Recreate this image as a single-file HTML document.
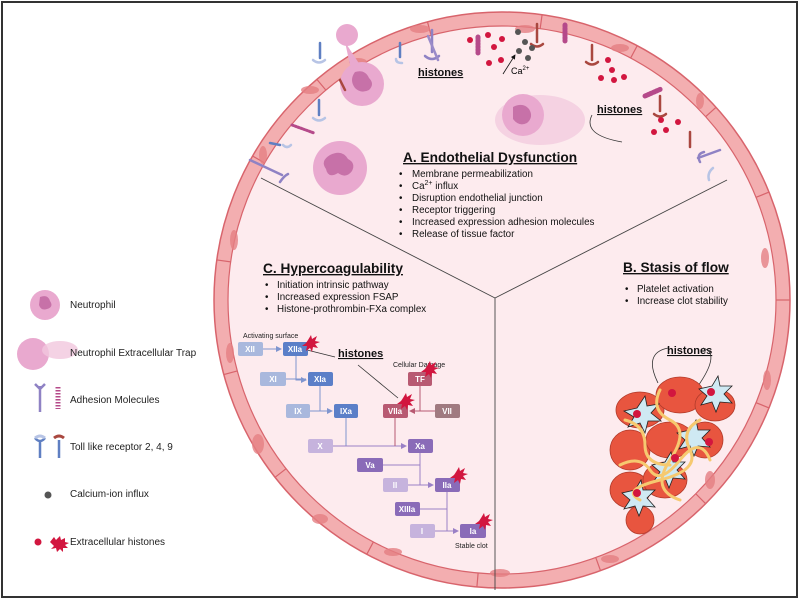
<!DOCTYPE html>
<html><head><meta charset="utf-8"><style>
html,body{margin:0;padding:0;background:#fff;}
svg{display:block;font-family:"Liberation Sans",sans-serif;}
</style></head><body>
<svg width="800" height="600" viewBox="0 0 800 600" xmlns="http://www.w3.org/2000/svg">
<defs>
<marker id="ab" markerWidth="6" markerHeight="6" refX="5" refY="3" orient="auto"><path d="M0,0 L6,3 L0,6z" fill="#7f95cf"/></marker>
<marker id="ap" markerWidth="6" markerHeight="6" refX="5" refY="3" orient="auto"><path d="M0,0 L6,3 L0,6z" fill="#9a80c6"/></marker>
<marker id="ar" markerWidth="6" markerHeight="6" refX="5" refY="3" orient="auto"><path d="M0,0 L6,3 L0,6z" fill="#b85a72"/></marker>
<marker id="ak" markerWidth="6" markerHeight="6" refX="5" refY="3" orient="auto"><path d="M0,0 L6,3 L0,6z" fill="#111"/></marker>
<clipPath id="vc"><circle cx="502" cy="300" r="289"/></clipPath>
</defs>
<rect x="2" y="2" width="795" height="595" fill="#fff" stroke="#333" stroke-width="2"/>
<!-- vessel -->
<circle cx="502" cy="300" r="288" fill="#f3aeb0" stroke="#d8646c" stroke-width="1.5"/>
<circle cx="502" cy="300" r="274" fill="#fdebee" stroke="#d8646c" stroke-width="1.2"/>
<g stroke="#d8646c" stroke-width="1.2">
<line x1="502" y1="12" x2="502" y2="26" transform="rotate(-60 502 300)"/>
<line x1="502" y1="12" x2="502" y2="26" transform="rotate(-40 502 300)"/>
<line x1="502" y1="12" x2="502" y2="26" transform="rotate(-15 502 300)"/>
<line x1="502" y1="12" x2="502" y2="26" transform="rotate(8 502 300)"/>
<line x1="502" y1="12" x2="502" y2="26" transform="rotate(28 502 300)"/>
<line x1="502" y1="12" x2="502" y2="26" transform="rotate(48 502 300)"/>
<line x1="502" y1="12" x2="502" y2="26" transform="rotate(68 502 300)"/>
<line x1="502" y1="12" x2="502" y2="26" transform="rotate(90 502 300)"/>
<line x1="502" y1="12" x2="502" y2="26" transform="rotate(112 502 300)"/>
<line x1="502" y1="12" x2="502" y2="26" transform="rotate(135 502 300)"/>
<line x1="502" y1="12" x2="502" y2="26" transform="rotate(160 502 300)"/>
<line x1="502" y1="12" x2="502" y2="26" transform="rotate(185 502 300)"/>
<line x1="502" y1="12" x2="502" y2="26" transform="rotate(208 502 300)"/>
<line x1="502" y1="12" x2="502" y2="26" transform="rotate(232 502 300)"/>
<line x1="502" y1="12" x2="502" y2="26" transform="rotate(255 502 300)"/>
<line x1="502" y1="12" x2="502" y2="26" transform="rotate(278 502 300)"/>
</g>
<g fill="#e57f83" opacity="0.8">
<ellipse cx="420" cy="29" rx="10" ry="4"/><ellipse cx="525" cy="29" rx="10" ry="4" /><ellipse cx="620" cy="48" rx="9" ry="4"/>
<ellipse cx="700" cy="101" rx="4" ry="8"/><ellipse cx="765" cy="258" rx="4" ry="10"/><ellipse cx="767" cy="380" rx="4" ry="10"/>
<ellipse cx="230" cy="353" rx="4" ry="10"/><ellipse cx="234" cy="240" rx="4" ry="10"/><ellipse cx="258" cy="444" rx="6" ry="10"/>
<ellipse cx="320" cy="519" rx="8" ry="5"/><ellipse cx="393" cy="552" rx="9" ry="4"/><ellipse cx="500" cy="573" rx="10" ry="4"/>
<ellipse cx="610" cy="559" rx="9" ry="4"/><ellipse cx="710" cy="480" rx="5" ry="9"/><ellipse cx="263" cy="155" rx="4" ry="9"/>
<ellipse cx="310" cy="90" rx="9" ry="4"/><ellipse cx="358" cy="62" rx="9" ry="4"/>
</g>
<!-- dividers -->
<g stroke="#444" stroke-width="0.9" fill="none">
<line x1="261" y1="178" x2="495" y2="298"/><line x1="495" y1="298" x2="727" y2="180"/><line x1="495" y1="298" x2="495" y2="590"/>
</g>
<!-- neutrophils -->
<g>
<circle cx="340" cy="168" r="27" fill="#e9a9cf"/><path d="M330,155 q12,-6 18,4 q8,4 4,12 q-6,8 -14,2 q-10,6 -12,-4 q-6,-8 4,-14z" fill="#c771a8"/>
<circle cx="362" cy="84" r="22" fill="#e9a9cf"/><path d="M355,72 q10,-3 14,6 q6,6 0,12 q-8,4 -14,-2 q-6,-8 0,-16z" fill="#c771a8"/>
<circle cx="347" cy="35" r="11" fill="#e9a9cf"/><path d="M345,42 L360,65 L350,65z" fill="#e9a9cf"/>
<ellipse cx="540" cy="120" rx="45" ry="25" fill="#f1c7dd" opacity="0.7"/>
<circle cx="523" cy="115" r="21" fill="#e9a9cf"/><path d="M513,107 q10,-5 16,2 q5,8 -2,14 q-8,4 -14,-4z" fill="#c771a8"/>
</g>
<!-- receptors (simplified) -->
<g stroke-width="2.5" fill="none" stroke-linecap="round">
<path d="M432,30 l0,22" stroke="#8f82c4"/><path d="M425,56 q7,6 14,0" stroke="#8f82c4"/>
<path d="M428,36 l10,24" stroke="#9b8bc9"/>
<path d="M400,43 l0,14" stroke="#5f7fc2"/><path d="M402,63 q-6,0 -6,-4" stroke="#b7c4e5"/>
<path d="M537,24 l0,18" stroke="#a9473f"/><path d="M531,44 q6,5 12,0" stroke="#a9473f"/>
<path d="M592,45 l0,15" stroke="#a9473f"/><path d="M586,62 q6,5 12,0" stroke="#a9473f"/>
<path d="M660,96 l0,15" stroke="#a9473f"/><path d="M654,114 q6,5 12,0" stroke="#a9473f"/>
<path d="M720,150 l-22,8" stroke="#8f82c4"/><path d="M700,162 q-4,-8 4,-10" stroke="#8f82c4"/>
<path d="M250,160 l32,15" stroke="#8f82c4"/><path d="M280,182 q4,-6 8,-8" stroke="#8f82c4"/>
<path d="M320,43 l0,15" stroke="#5f7fc2"/><path d="M313,60 q6,5 12,0" stroke="#b7c4e5"/>
<path d="M319,100 l0,15" stroke="#5f7fc2"/><path d="M313,118 q6,5 12,0" stroke="#b7c4e5"/>
<path d="M340,80 l5,10" stroke="#a9473f"/>
<path d="M270,143 l10,2" stroke="#5f7fc2"/><path d="M283,145 q4,4 8,0" stroke="#b7c4e5"/>
<path d="M292,125 l22,8" stroke="#b54a8a" stroke-width="3" stroke-dasharray="1.5 1.5"/>
<path d="M478,37 l0,16" stroke="#b54a8a" stroke-width="5" stroke-dasharray="1.5 1.5"/>
<path d="M565,25 l0,16" stroke="#b54a8a" stroke-width="5" stroke-dasharray="1.5 1.5"/>
<path d="M645,96 l16,-7" stroke="#b54a8a" stroke-width="5" stroke-dasharray="1.5 1.5"/>
<path d="M690,132 l0,15" stroke="#a9473f"/><path d="M713,168 q-6,5 -4,12" stroke="#b7c4e5"/>
</g>
<!-- dots -->
<g fill="#d2163f">
<circle cx="488" cy="35" r="3"/><circle cx="502" cy="39" r="3"/><circle cx="494" cy="47" r="3"/><circle cx="489" cy="63" r="3"/><circle cx="501" cy="60" r="3"/><circle cx="470" cy="40" r="3"/>
<circle cx="608" cy="60" r="3"/><circle cx="612" cy="70" r="3"/><circle cx="601" cy="78" r="3"/><circle cx="614" cy="80" r="3"/><circle cx="624" cy="77" r="3"/>
<circle cx="661" cy="120" r="3"/><circle cx="654" cy="132" r="3"/><circle cx="666" cy="130" r="3"/><circle cx="678" cy="122" r="3"/>
</g>
<g fill="#555"><circle cx="518" cy="32" r="3"/><circle cx="525" cy="42" r="3"/><circle cx="519" cy="51" r="3"/><circle cx="528" cy="58" r="3"/><circle cx="532" cy="48" r="3"/></g>
<g font-weight="bold" font-size="11" fill="#111" text-decoration="underline">
<text x="418" y="76">histones</text><text x="597" y="113">histones</text><text x="667" y="354">histones</text><text x="338" y="357">histones</text>
</g>
<text x="511" y="74" font-size="9">Ca<tspan font-size="6" dy="-4">2+</tspan></text>
<line x1="503" y1="74" x2="515" y2="55" stroke="#111" stroke-width="0.8" marker-end="url(#ak)"/>
<g stroke="#333" stroke-width="0.8" fill="none">
<path d="M592,115 q-10,20 30,27"/><path d="M668,348 q-25,5 -10,35"/><path d="M703,348 q18,5 -5,38"/>
<line x1="307" y1="350" x2="335" y2="357"/><line x1="358" y1="365" x2="398" y2="398"/>
</g>
<!-- clot -->
<g clip-path="url(#vc)">
<g fill="#e8553f" stroke="#b03a2a" stroke-width="0.8">
<ellipse cx="640" cy="410" rx="24" ry="18"/><ellipse cx="680" cy="395" rx="24" ry="18"/><ellipse cx="715" cy="405" rx="20" ry="16"/>
<ellipse cx="630" cy="450" rx="20" ry="20"/><ellipse cx="670" cy="440" rx="24" ry="18"/><ellipse cx="705" cy="440" rx="18" ry="18"/>
<ellipse cx="630" cy="490" rx="20" ry="18"/><ellipse cx="665" cy="480" rx="22" ry="18"/><ellipse cx="640" cy="520" rx="14" ry="14"/>
</g>
<g fill="#cfe9f3" stroke="#222" stroke-width="0.8">
<path d="M637,408 l8,-12 2,10 12,-2 -8,9 10,8 -13,0 -3,12 -5,-10 -12,4 6,-10 -10,-6z"/>
<path d="M712,386 l6,-10 2,10 12,0 -8,8 8,9 -12,-1 -4,10 -4,-10 -11,3 6,-9 -8,-7z"/>
<path d="M690,430 l6,-10 2,10 12,0 -8,8 8,9 -12,-1 -4,10 -4,-10 -11,3 6,-9 -8,-7z"/>
<path d="M665,462 l6,-10 2,10 12,0 -8,8 8,9 -12,-1 -4,10 -4,-10 -11,3 6,-9 -8,-7z"/>
<path d="M635,490 l6,-10 2,10 12,0 -8,8 8,9 -12,-1 -4,10 -4,-10 -11,3 6,-9 -8,-7z"/>
</g>
<g fill="none" stroke="#f6c970" stroke-width="3" stroke-linecap="round">
<path d="M620,465 q20,-10 30,5 t30,-10 t30,0"/><path d="M660,390 q-10,20 10,30 t0,40 t10,40"/>
<path d="M625,420 q20,5 20,25 t25,20"/><path d="M700,420 q-20,10 -10,30 t-30,30 t-20,20"/>
</g>
<g fill="#d2163f"><circle cx="672" cy="393" r="4"/><circle cx="711" cy="392" r="4"/><circle cx="637" cy="414" r="4"/><circle cx="709" cy="442" r="4"/><circle cx="675" cy="458" r="4"/><circle cx="637" cy="493" r="4"/></g>
</g>
<!-- Section titles -->
<g fill="#111">
<text x="403" y="162" font-size="13.7" font-weight="bold" text-decoration="underline">A. Endothelial Dysfunction</text>
<g font-size="9.8">
<text x="399" y="177">•</text><text x="412" y="177">Membrane permeabilization</text>
<text x="399" y="189">•</text><text x="412" y="189">Ca<tspan font-size="7" dy="-4">2+</tspan><tspan dy="4"> influx</tspan></text>
<text x="399" y="201">•</text><text x="412" y="201">Disruption endothelial junction</text>
<text x="399" y="213">•</text><text x="412" y="213">Receptor triggering</text>
<text x="399" y="225">•</text><text x="412" y="225">Increased expression adhesion molecules</text>
<text x="399" y="237">•</text><text x="412" y="237">Release of tissue factor</text>
</g>
<text x="263" y="273" font-size="13.7" font-weight="bold" text-decoration="underline">C. Hypercoagulability</text>
<g font-size="9.8">
<text x="265" y="288">•</text><text x="277" y="288">Initiation intrinsic pathway</text>
<text x="265" y="300">•</text><text x="277" y="300">Increased expression FSAP</text>
<text x="265" y="312">•</text><text x="277" y="312">Histone-prothrombin-FXa complex</text>
</g>
<text x="623" y="272" font-size="13.7" font-weight="bold" text-decoration="underline">B. Stasis of flow</text>
<g font-size="9.8">
<text x="625" y="292">•</text><text x="637" y="292">Platelet activation</text>
<text x="625" y="304">•</text><text x="637" y="304">Increase clot stability</text>
</g>
</g>
<!-- cascade -->
<g font-size="7" fill="#222"><text x="243" y="338">Activating surface</text><text x="393" y="367">Cellular Damage</text><text x="455" y="548">Stable clot</text></g>
<g stroke-width="1">
<path d="M263,349 H281" stroke="#7f95cf" marker-end="url(#ab)"/>
<path d="M296,356 V380 H306" stroke="#7f95cf" fill="none" marker-end="url(#ab)"/>
<path d="M286,379 H306" stroke="#7f95cf"/>
<path d="M320,386 V411 H332" stroke="#7f95cf" fill="none" marker-end="url(#ab)"/>
<path d="M310,411 H332" stroke="#7f95cf"/>
<path d="M346,418 V446" stroke="#7f95cf"/>
<path d="M333,446 H406" stroke="#9a80c6" marker-end="url(#ap)"/>
<path d="M420,386 V411 H410" stroke="#b85a72" fill="none" marker-end="url(#ar)"/>
<path d="M435,411 H410" stroke="#b85a72"/>
<path d="M395,418 V446" stroke="#b85a72"/>
<path d="M420,453 V485 H433" stroke="#9a80c6" fill="none" marker-end="url(#ap)"/>
<path d="M383,465 H420" stroke="#9a80c6"/><path d="M408,485 H433" stroke="#9a80c6"/>
<path d="M447,492 V531 H458" stroke="#9a80c6" fill="none" marker-end="url(#ap)"/>
<path d="M420,509 H447" stroke="#9a80c6"/><path d="M435,531 H458" stroke="#9a80c6"/>
</g>
<g font-size="8" font-weight="bold" fill="#fff" text-anchor="middle">
<rect x="238" y="342" width="25" height="14" rx="2" fill="#a9b8dd"/><text x="250" y="352">XII</text>
<rect x="283" y="342" width="25" height="14" rx="2" fill="#5b7fc8"/><text x="295" y="352">XIIa</text>
<rect x="260" y="372" width="26" height="14" rx="2" fill="#a9b8dd"/><text x="273" y="382">XI</text>
<rect x="308" y="372" width="25" height="14" rx="2" fill="#5b7fc8"/><text x="320" y="382">XIa</text>
<rect x="286" y="404" width="24" height="14" rx="2" fill="#a9b8dd"/><text x="298" y="414">IX</text>
<rect x="334" y="404" width="24" height="14" rx="2" fill="#5b7fc8"/><text x="346" y="414">IXa</text>
<rect x="383" y="404" width="25" height="14" rx="2" fill="#b85a72"/><text x="395" y="414">VIIa</text>
<rect x="408" y="372" width="24" height="14" rx="2" fill="#b85a72"/><text x="420" y="382">TF</text>
<rect x="435" y="404" width="25" height="14" rx="2" fill="#a07a80"/><text x="447" y="414">VII</text>
<rect x="308" y="439" width="25" height="14" rx="2" fill="#c6b3dd"/><text x="320" y="449">X</text>
<rect x="408" y="439" width="25" height="14" rx="2" fill="#8a6bb8"/><text x="420" y="449">Xa</text>
<rect x="357" y="458" width="26" height="14" rx="2" fill="#8a6bb8"/><text x="370" y="468">Va</text>
<rect x="383" y="478" width="25" height="14" rx="2" fill="#c6b3dd"/><text x="395" y="488">II</text>
<rect x="435" y="478" width="25" height="14" rx="2" fill="#8a6bb8"/><text x="447" y="488">IIa</text>
<rect x="395" y="502" width="25" height="14" rx="2" fill="#8a6bb8"/><text x="407" y="512">XIIIa</text>
<rect x="410" y="524" width="25" height="14" rx="2" fill="#c6b3dd"/><text x="422" y="534">I</text>
<rect x="460" y="524" width="26" height="14" rx="2" fill="#8a6bb8"/><text x="473" y="534">Ia</text>
</g>
<g fill="#d2163f">
<path d="M308,340 l3,-5 1,4 5,-3 -2,5 5,1 -5,2 3,4 -5,-1 -1,5 -2,-4 -4,3 1,-5 -5,0 4,-3z"/>
<path d="M427,366 l3,-5 1,4 5,-3 -2,5 5,1 -5,2 3,4 -5,-1 -1,5 -2,-4 -4,3 1,-5 -5,0 4,-3z"/>
<path d="M403,398 l3,-5 1,4 5,-3 -2,5 5,1 -5,2 3,4 -5,-1 -1,5 -2,-4 -4,3 1,-5 -5,0 4,-3z"/>
<path d="M456,472 l3,-5 1,4 5,-3 -2,5 5,1 -5,2 3,4 -5,-1 -1,5 -2,-4 -4,3 1,-5 -5,0 4,-3z"/>
<path d="M481,518 l3,-5 1,4 5,-3 -2,5 5,1 -5,2 3,4 -5,-1 -1,5 -2,-4 -4,3 1,-5 -5,0 4,-3z"/>
</g>
<!-- legend -->
<circle cx="45" cy="305" r="15" fill="#e9a9cf"/><path d="M40,297 q8,-3 10,4 q4,6 -3,8 q-6,2 -8,-4z" fill="#c771a8"/>
<circle cx="33" cy="354" r="16" fill="#e9a9cf"/><ellipse cx="60" cy="350" rx="18" ry="9" fill="#f1c7dd" opacity="0.8"/>
<path d="M40,386 v26 M35,384 l5,5 5,-5" stroke="#8f82c4" stroke-width="2.5" fill="none"/>
<path d="M58,387 v22" stroke="#b54a8a" stroke-width="5" stroke-dasharray="1.5 1.5"/>
<path d="M40,440 v18 M35,438 q5,6 10,0" stroke="#5f7fc2" stroke-width="2.5" fill="none"/><path d="M35,438 q5,-4 10,0" stroke="#b7c4e5" stroke-width="3" fill="none"/>
<path d="M59,440 v18" stroke="#5f7fc2" stroke-width="2.5"/><path d="M54,438 q5,-4 10,0" stroke="#a9473f" stroke-width="3" fill="none"/>
<circle cx="48" cy="495" r="3.5" fill="#555"/>
<circle cx="38" cy="542" r="3.5" fill="#d2163f"/>
<path d="M50,542 l4,-5 2,3 4,-4 1,4 4,-2 0,4 4,1 -4,2 3,3 -5,0 0,4 -3,-3 -3,3 -1,-4 -5,1 3,-3z" fill="#d2163f"/>
<g font-size="10" fill="#222">
<text x="70" y="308">Neutrophil</text><text x="70" y="356">Neutrophil Extracellular Trap</text>
<text x="70" y="403">Adhesion Molecules</text><text x="70" y="450">Toll like receptor 2, 4, 9</text>
<text x="70" y="497">Calcium-ion influx</text><text x="70" y="545">Extracellular histones</text>
</g>
</svg>
</body></html>
